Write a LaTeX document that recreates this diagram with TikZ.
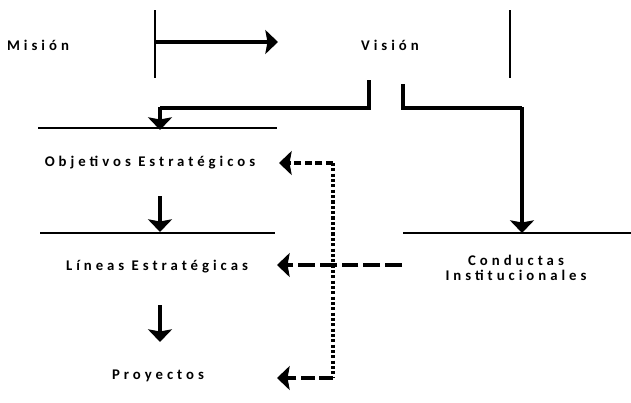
\documentclass[tikz,border=0pt]{standalone}
\usepackage{fontspec}
\setmainfont{Carlito}[LetterSpace=27]
\usepackage{tikz}
\usetikzlibrary{arrows.meta}

\begin{document}
\begin{tikzpicture}[%
			x=0.025cm,
			y=-0.025cm,
			align = center,
			font=\bfseries\fontsize{10.5}{11}\selectfont,
			>={Stealth[length=9pt,width=17pt,inset=1.5pt]},
			label/.style={%
				inner sep=1pt
			},
			bar/.style={%
				line width=1.4pt
			},
			rule/.style={%
				line width=1.5pt
			},
			bracket/.style={%
				line width=2.2pt
			},
			thick arrow/.style={%
				line width=3.2pt,
				->
			},
			dash arrow/.style={%
				line width=3pt,
				dash pattern=on 12pt off 3.5pt,
				->
			},
			link/.style={%
				line width=2.4pt,
				dash pattern=on 2.2pt off 1.6pt
			}
			]
			\useasboundingbox (0,0) rectangle (631,402);
			% the texts
			\node[label] (mision) at (38,45) {Misión};
			\node[label] (vision) at (390,45) {Visión};
			\node[label] (objetivos) at (150,163) {Objetivos Estratégicos};
			\node[label] (lineas) at (157,267) {Líneas Estratégicas};
			\node[label] (proyectos) at (158,376) {Proyectos};
			\node[label] (conductas) at (516,268) {Conductas\\Institucionales};

			% bars and rules
			\draw[bar] (155,10) -- (155,78);
			\draw[bar] (510,10) -- (510,78);
			\draw[rule] (38,128) -- (277,128);
			\draw[rule] (40,233) -- (275,233);
			\draw[rule] (403,233) -- (631,233);

			% ends of the connectors
			\coordinate (m1) at (155,42);
			\coordinate (m2) at (278,42);
			\coordinate (vl) at (369,80);
			\coordinate (vr) at (403,84);
			\coordinate (o1) at (160,130);
			\coordinate (c1) at (522,233);
			\coordinate (d1) at (333,163);
			\coordinate (d2) at (333,378);
			\coordinate (e1) at (402,265);

			\draw[thick arrow] (m1) -- (m2);
			\draw[bracket] (vl) -- (369,108) -- (160,108);
			\draw[thick arrow] (160,107) -- (o1);
			\draw[bracket] (vr) -- (403,108) -- (522,108);
			\draw[thick arrow] (522,107) -- (c1);
			\draw[thick arrow] (160,196) -- (160,232);
			\draw[thick arrow] (160,305) -- (160,342);

			% dashed links from the right
			\draw[link] (d1) -- (d2);
			\draw[link,->,line width=2.6pt,dash pattern=on 5pt off 2.5pt] (d1) -- (279,163);
			\draw[dash arrow] (e1) -- (277,265);
			\draw[dash arrow,dash pattern=on 10pt off 3pt] (d2) -- (277,378);
\end{tikzpicture}
\end{document}
